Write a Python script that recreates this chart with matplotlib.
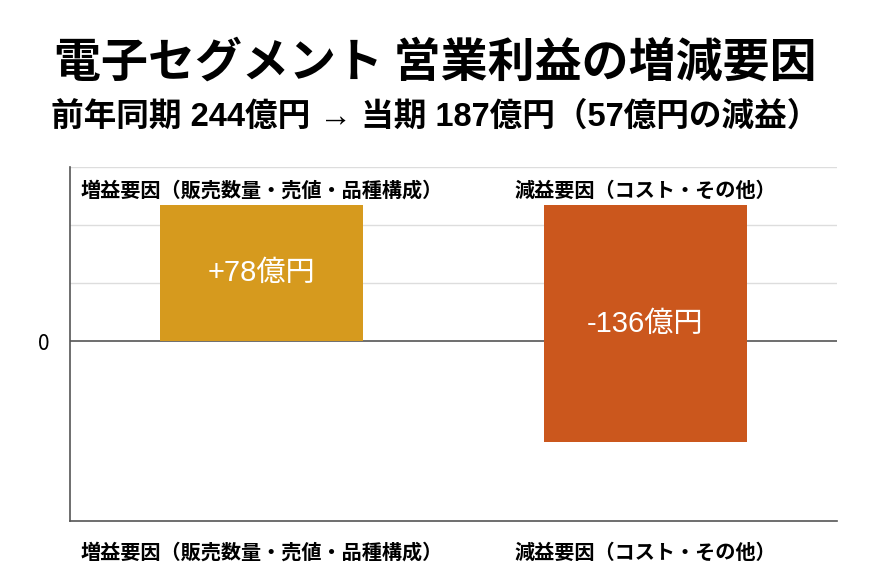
import matplotlib
matplotlib.use("Agg")
import matplotlib.pyplot as plt

plt.rcParams['font.family'] = ['Noto Sans CJK JP', 'DejaVu Sans']
latin_first = ['Liberation Sans', 'Noto Sans CJK JP']

title = "電子セグメント 営業利益の増減要因"
subtitle = "前年同期 244億円 → 当期 187億円（57億円の減益）"
categories = ["増益要因（販売数量・売値・品種構成）", "減益要因（コスト・その他）"]
values = [78, -136]
value_labels = ["+78億円", "-136億円"]
colors = ["#D69A1E", "#CB571D"]

# waterfall: each bar starts where the previous one ended
bottoms = []
run = 0
for v in values:
    bottoms.append(run)
    run += v

fig = plt.figure(figsize=(8.7, 5.83), dpi=100)
ax = fig.add_axes([0.0805, 0.1063, 0.8815, 0.6073])

x = list(range(len(categories)))
bars = ax.bar(x, values, bottom=bottoms, width=0.53, color=colors, zorder=2)

ymin, ymax = -103.4, 100
ax.set_xlim(-0.5, 1.5)
ax.set_ylim(ymin, ymax)

for k in (1, 2, 3):
    ax.axhline(ymax * k / 3, color="#dddddd", lw=1, zorder=0)
ax.axhline(0, color="#555555", lw=1.2, zorder=1)

ax.set_yticks([0])
ax.set_yticklabels(["0"], fontsize=15)
ax.tick_params(axis="y", length=0, pad=15)
ax.set_xticks(x)
ax.set_xticklabels(categories, fontsize=14.5, fontweight="bold")
ax.tick_params(axis="x", length=0, pad=15)

for s in ["top", "right"]:
    ax.spines[s].set_visible(False)
for s in ["left", "bottom"]:
    ax.spines[s].set_color("#555555")
    ax.spines[s].set_linewidth(1.2)

# value labels in the middle of each bar
for b, v, lab in zip(bars, values, value_labels):
    ax.text(b.get_x() + b.get_width() / 2, b.get_y() + v / 2, lab, color="white",
            fontsize=21, family=latin_first, ha="center", va="center", zorder=4)

# category captions above the bars
for xi, cat in zip(x, categories):
    ax.text(xi, 0.935, cat, transform=ax.get_xaxis_transform(),
            fontsize=14.5, fontweight="bold", ha="center", va="center")

fig.text(0.5, 0.893, title, fontsize=33.8, fontweight="bold", ha="center", va="center")
fig.text(0.5, 0.799, subtitle, fontsize=23.5, fontweight="bold", family=latin_first,
         ha="center", va="center")

fig.savefig("out.png", dpi=100, facecolor="white")
